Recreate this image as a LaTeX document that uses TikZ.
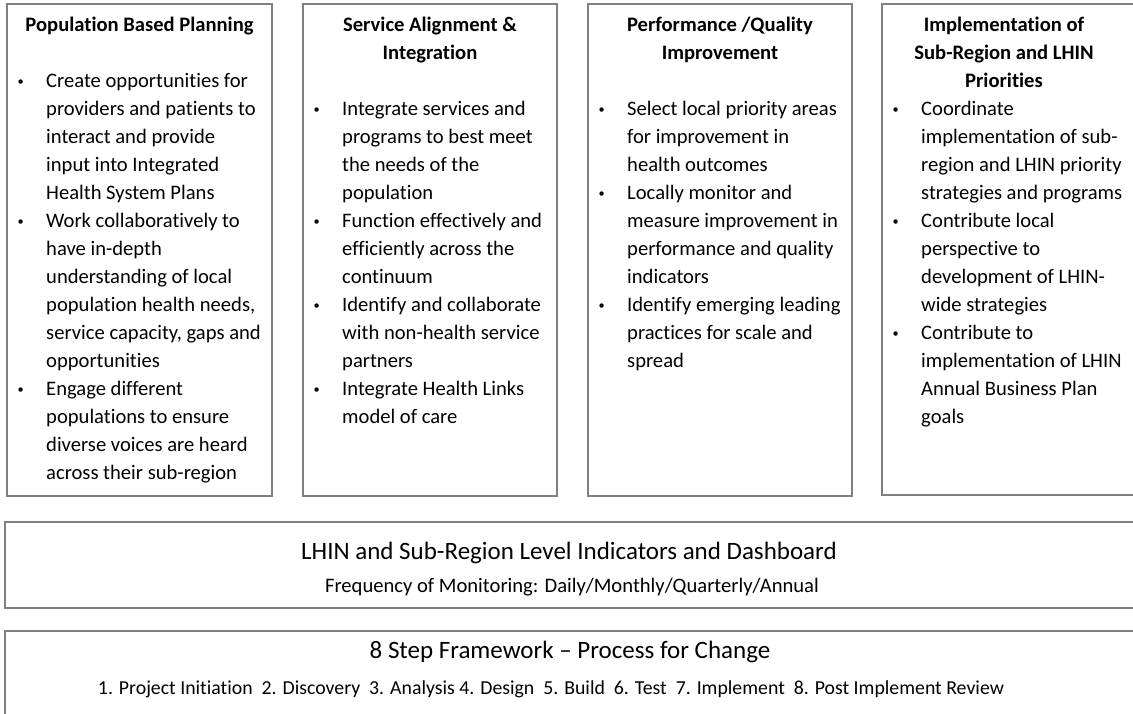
\documentclass[tikz,border=0pt]{standalone}
\usepackage{fontspec}
\usepackage{graphicx}
\setmainfont{Carlito}[Ligatures={TeX,NoCommon}]
\usetikzlibrary{positioning}
\definecolor{boxgray}{RGB}{128,128,128}
\newcommand{\bodysize}{\fontsize{20.6}{28}\selectfont}
\newcommand{\titlesize}{\fontsize{25}{30}\selectfont}
\newcommand{\stepsize}{\fontsize{19.8}{24}\selectfont}
\newcommand{\headlines}[1]{\begin{tabular}[t]{@{}c@{}}#1\end{tabular}}
\newcommand{\itemlist}[1]{\begin{tabular}[t]{@{}p{28.5pt}@{}l@{}}#1\end{tabular}}
\newcommand{\bul}{\raisebox{0.12em}{\scalebox{0.6}{\textbullet}} &}
\begin{document}
\begin{tikzpicture}[x=1pt, y=-1pt,
  colbox/.style={draw=boxgray, line width=1.2pt, anchor=north west, inner sep=0pt, outer sep=0pt},
  headtext/.style={anchor=base, inner sep=0pt, font=\bodysize\bfseries},
  listtext/.style={anchor=base west, inner sep=0pt, font=\bodysize},
  bartitle/.style={anchor=base, inner sep=0pt, font=\titlesize},
  barline/.style={anchor=base, inner sep=0pt, font=\bodysize}]
\useasboundingbox (0,0) rectangle (1133,713);
\clip (0,0) rectangle (1133,713);

% four columns
\node[colbox, minimum width=265pt, minimum height=492pt] (pbp) at (7,4) {};
\node[colbox, minimum width=254pt, minimum height=492pt] (sai) at (303,4) {};
\node[colbox, minimum width=264pt, minimum height=492pt] (pqi) at (588,4) {};
\node[colbox, minimum width=280pt, minimum height=491pt] (isr) at (882,4) {};

\node[headtext] (pbp-head) at (139.5,31.5) {\headlines{Population Based Planning}};
\node[headtext] (sai-head) at (430,31.5) {\headlines{Service Alignment \&\\Integration}};
\node[headtext] (pqi-head) at (720,31.5) {\headlines{Performance /Quality\\Improvement}};
\node[headtext] (isr-head) at (1004,31.5) {\headlines{Implementation of\\Sub-Region and LHIN\\Priorities}};

\node[listtext] (pbp-list) at (17.5,87.5) {\itemlist{
\bul Create opportunities for\\ & providers and patients to\\ & interact and provide\\ & input into Integrated\\ & Health System Plans\\
\bul Work collaboratively to\\ & have in-depth\\ & understanding of local\\ & population health needs,\\ & service capacity, gaps and\\ & opportunities\\
\bul Engage different\\ & populations to ensure\\ & diverse voices are heard\\ & across their sub-region}};
\node[listtext] (sai-list) at (313.5,115.5) {\itemlist{
\bul Integrate services and\\ & programs to best meet\\ & the needs of the\\ & population\\
\bul Function effectively and\\ & efficiently across the\\ & continuum\\
\bul Identify and collaborate\\ & with non-health service\\ & partners\\
\bul Integrate Health Links\\ & model of care}};
\node[listtext] (pqi-list) at (598.5,115.5) {\itemlist{
\bul Select local priority areas\\ & for improvement in\\ & health outcomes\\
\bul Locally monitor and\\ & measure improvement in\\ & performance and quality\\ & indicators\\
\bul Identify emerging leading\\ & practices for scale and\\ & spread}};
\node[listtext] (isr-list) at (892.5,115.5) {\itemlist{
\bul Coordinate\\ & implementation of sub-\\ & region and LHIN priority\\ & strategies and programs\\
\bul Contribute local\\ & perspective to\\ & development of LHIN-\\ & wide strategies\\
\bul Contribute to\\ & implementation of LHIN\\ & Annual Business Plan\\ & goals}};

% two bars below
\node[colbox, minimum width=1140pt, minimum height=86pt] (dash) at (5,522) {};
\node[bartitle] (dash-title) at (569,559) {LHIN and Sub-Region Level Indicators and Dashboard};
\node[barline] (dash-freq) at (572,592) {Frequency of Monitoring: Daily/Monthly/Quarterly/Annual};

\node[colbox, minimum width=1140pt, minimum height=100pt] (steps) at (5,631) {};
\node[bartitle] (steps-title) at (570,658) {8 Step Framework – Process for Change};
\node[barline, font=\stepsize] (steps-list) at (551,694) {1. Project Initiation\ \ 2. Discovery\ \ 3. Analysis 4. Design\ \ 5. Build\ \ 6. Test\ \ 7. Implement\ \ 8. Post Implement Review};
\end{tikzpicture}
\end{document}
